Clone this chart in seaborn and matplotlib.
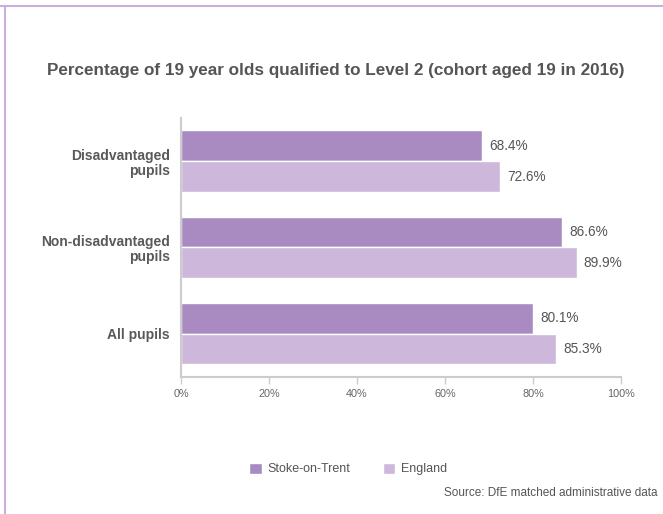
import matplotlib
matplotlib.use("Agg")
import matplotlib.pyplot as plt
from matplotlib import font_manager
from matplotlib.lines import Line2D
import seaborn as sns
import pandas as pd

# Data
groups = ["Disadvantaged\npupils", "Non-disadvantaged\npupils", "All pupils"]
areas = ["Stoke-on-Trent", "England"]
stoke = [68.4, 86.6, 80.1]
england = [72.6, 89.9, 85.3]
x_ticks = [0, 20, 40, 60, 80, 100]
x_tick_labels = ["0%", "20%", "40%", "60%", "80%", "100%"]

title = "Percentage of 19 year olds qualified to Level 2 (cohort aged 19 in 2016)"
source = "Source: DfE matched administrative data"

colors = {"Stoke-on-Trent": "#a98bc1", "England": "#cdb8db"}

df = pd.DataFrame({
    "group": groups * 2,
    "area": [areas[0]] * 3 + [areas[1]] * 3,
    "value": stoke + england,
})

sns.set_theme(style="white")
installed = {f.name for f in font_manager.fontManager.ttflist}
narrow = "Liberation Sans Narrow" if "Liberation Sans Narrow" in installed else "Liberation Sans"
plt.rcParams["font.family"] = [narrow, "DejaVu Sans"]

fig = plt.figure(figsize=(6.63, 5.14), dpi=100)
ax = fig.add_axes([0.273, 0.267, 0.6637, 0.5034])

sns.barplot(data=df, y="group", x="value", hue="area", hue_order=areas,
            palette=colors, orient="h", width=0.714, saturation=1,
            ax=ax)

for cont in ax.containers:
    ax.bar_label(cont, fmt="%.1f%%", padding=5, fontsize=9.8, color="#555555")

ax.set_xlim(0, 100)
ax.set_ylim(2.5, -0.5)
ax.set_xticks(x_ticks)
ax.set_xticklabels(x_tick_labels, fontsize=7.8, color="#666666")
ax.set_yticks(range(len(groups)))
ax.set_yticklabels(groups, fontsize=10, fontweight="bold", color="#595959",
                   ha="right", multialignment="right", linespacing=1.1)
ax.set_xlabel("")
ax.set_ylabel("")
ax.tick_params(axis="x", length=5, width=1, color="#cccccc", pad=4, bottom=True)
ax.tick_params(axis="y", length=0, pad=8)

for side in ["top", "right"]:
    ax.spines[side].set_visible(False)
for side in ["left", "bottom"]:
    ax.spines[side].set_color("#cccccc")
    ax.spines[side].set_linewidth(1.5)

sns.move_legend(ax, "center", bbox_to_anchor=(0.525, 0.0875),
                bbox_transform=fig.transFigure, ncol=2, frameon=False,
                title=None, fontsize=9, handlelength=1.0, handleheight=1.0,
                columnspacing=2.6, handletextpad=0.45)
for t in ax.get_legend().get_texts():
    t.set_color("#555555")

fig.text(0.507, 0.862, title, ha="center", va="center", fontsize=12.3,
         fontweight="bold", color="#555555")
fig.text(0.991, 0.040, source, ha="right", va="center", fontsize=8.5,
         color="#555555")

# Page frame lines along the top and left edges
frame_color = "#c9afdc"
fig.add_artist(Line2D([0, 1], [1 - 5.5 / 514] * 2, transform=fig.transFigure,
                      color=frame_color, linewidth=1.5))
fig.add_artist(Line2D([4.5 / 663] * 2, [0, 1 - 5.5 / 514], transform=fig.transFigure,
                      color=frame_color, linewidth=1.5))

fig.savefig("out.png", dpi=100)
